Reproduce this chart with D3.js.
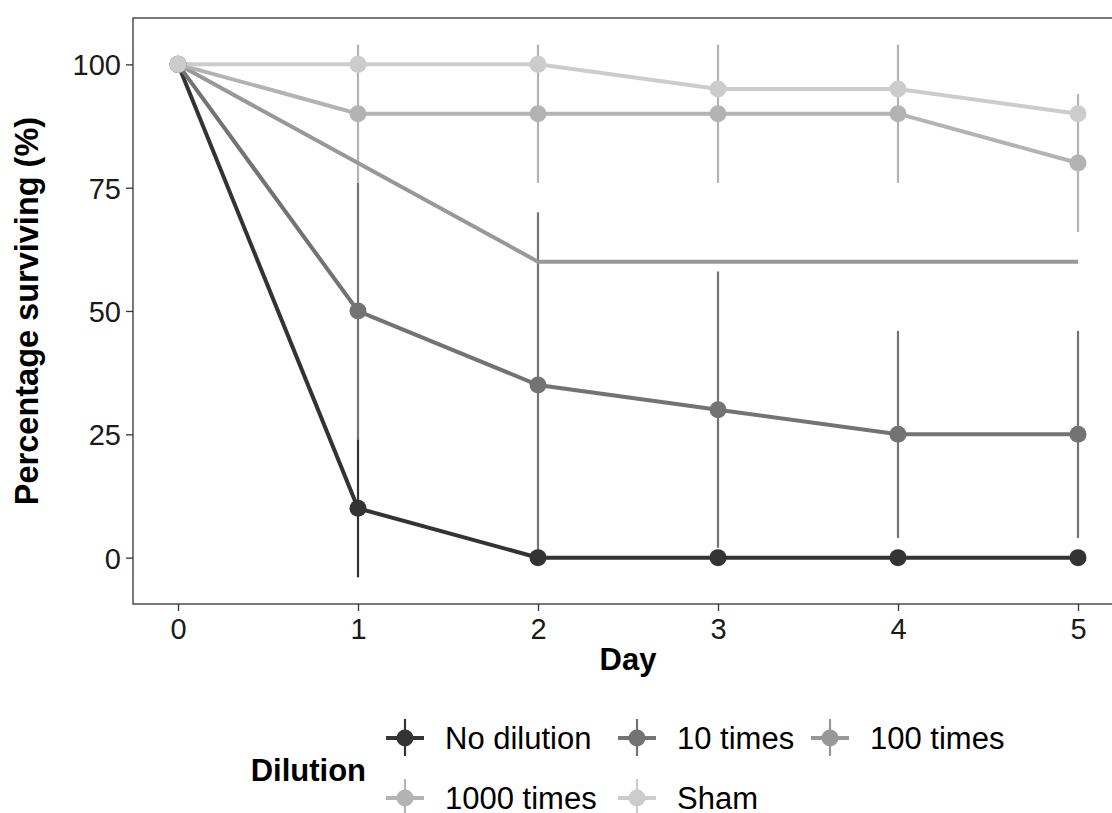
<!DOCTYPE html>
<meta charset="utf-8">
<head>
<title>Survival by dilution</title>
<script src="https://cdn.jsdelivr.net/npm/d3@7"></script>
<style>
body { margin: 0; background-color: #FFF; }
text { font-family: 'Liberation Sans', Arial, sans-serif; fill: #000; }
.tick text { font-size: 29px; fill: #1a1a1a; }
.axis-title { font-size: 31px; font-weight: bold; }
.y-title { font-size: 32.5px; }
.legend-text { font-size: 31px; }
</style>
</head>
<body>
<svg id="chart" width="1112" height="813"></svg>
<script>
// data
var days = [0, 1, 2, 3, 4, 5];
var dilutions = ["No dilution", "10 times", "100 times", "1000 times", "Sham"];
var greys = ["#333333", "#737373", "#989898", "#B3B3B3", "#CCCCCC"];

var meanNoDil  = [100, 10, 0, 0, 0, 0];
var mean10     = [100, 50, 35, 30, 25, 25];
var mean100    = [100, 80, 60, 60, 60, 60];
var mean1000   = [100, 90, 90, 90, 90, 80];
var meanSham   = [100, 100, 100, 95, 95, 90];

var errNoDil = [0, 14, 0, 0, 0, 0];
var err10    = [0, 26, 35, 28, 21, 21];
var err100   = [0, 0, 0, 0, 0, 0];
var err1000  = [0, 14, 14, 14, 14, 14];
var errSham  = [0, 0, 0, 0, 0, 0];

// the 100 times series shows no point markers in the figure
var showPoints = [true, true, false, true, true];

var xTicks = [0, 1, 2, 3, 4, 5];
var yTicks = [0, 25, 50, 75, 100];

var means = [meanNoDil, mean10, mean100, mean1000, meanSham];
var errs = [errNoDil, err10, err100, err1000, errSham];

var series = dilutions.map(function(name, i){
    return {name: name, color: greys[i], points: showPoints[i],
        values: days.map(function(d, j){ return {day: d, mean: means[i][j], err: errs[i][j]}; })};
});

var panelL = 133, panelT = 18, panelB = 604, pxPerDay = 180;
var x = d3.scaleLinear().domain([-0.25, 5.25]).range([panelL, panelL + 5.5 * pxPerDay]);
var y = d3.scaleLinear().domain([-9.4, 109.4]).range([panelB, panelT]);

var svg = d3.select("#chart");

// error bars
var eb = svg.append("g").attr("class", "errorbars");
series.forEach(function(s){
    eb.selectAll(null)
        .data(s.values.filter(function(d){ return d.err > 0; }))
        .enter().append("line")
        .attr("x1", function(d){ return x(d.day); })
        .attr("x2", function(d){ return x(d.day); })
        .attr("y1", function(d){ return y(d.mean - d.err); })
        .attr("y2", function(d){ return y(d.mean + d.err); })
        .attr("stroke", s.color)
        .attr("stroke-width", 2.2);
});

// lines
var line = d3.line().x(function(d){ return x(d.day); }).y(function(d){ return y(d.mean); });
svg.append("g").selectAll("path")
    .data(series)
    .enter().append("path")
    .attr("d", function(s){ return line(s.values); })
    .attr("fill", "none")
    .attr("stroke", function(s){ return s.color; })
    .attr("stroke-width", 4);

// points
series.forEach(function(s){
    if (!s.points) return;
    svg.append("g").selectAll("circle")
        .data(s.values)
        .enter().append("circle")
        .attr("cx", function(d){ return x(d.day); })
        .attr("cy", function(d){ return y(d.mean); })
        .attr("r", 8.5)
        .attr("fill", s.color);
});

// panel border
svg.append("rect")
    .attr("x", panelL).attr("y", panelT)
    .attr("width", x.range()[1] - panelL).attr("height", panelB - panelT)
    .attr("fill", "none").attr("stroke", "#333").attr("stroke-width", 1.3);

// axes
var xAxis = svg.append("g")
    .attr("transform", "translate(0," + panelB + ")")
    .call(d3.axisBottom(x).tickValues(xTicks).tickSize(7).tickPadding(5).tickFormat(d3.format("d")));
var yAxis = svg.append("g")
    .attr("transform", "translate(" + panelL + ",0)")
    .call(d3.axisLeft(y).tickValues(yTicks).tickSize(7).tickPadding(5).tickFormat(d3.format("d")));
[xAxis, yAxis].forEach(function(a){
    a.select(".domain").remove();
    a.selectAll(".tick line").attr("stroke", "#333").attr("stroke-width", 1.3);
});
xAxis.selectAll(".tick text").attr("dy", "0.78em");
yAxis.selectAll(".tick text").attr("dy", "0.36em");

svg.append("text").attr("class", "axis-title")
    .attr("x", x(2.5)).attr("y", 670)
    .attr("text-anchor", "middle").text("Day");
svg.append("text").attr("class", "axis-title y-title")
    .attr("transform", "translate(38," + ((panelT + panelB) / 2) + ") rotate(-90)")
    .attr("text-anchor", "middle").text("Percentage surviving (%)");

// legend
var legend = svg.append("g");
legend.append("text").attr("class", "axis-title")
    .attr("x", 366).attr("y", 781).attr("text-anchor", "end").text("Dilution");
var keyX = [405, 637, 830, 405, 637];
var keyY = [738, 738, 738, 798, 798];
series.forEach(function(s, i){
    var g = legend.append("g").attr("transform", "translate(" + keyX[i] + "," + keyY[i] + ")");
    g.append("line").attr("x1", 0).attr("x2", 0).attr("y1", -19).attr("y2", 18)
        .attr("stroke", s.color).attr("stroke-width", 2.2);
    g.append("line").attr("x1", -19).attr("x2", 19).attr("y1", 0).attr("y2", 0)
        .attr("stroke", s.color).attr("stroke-width", 4);
    g.append("circle").attr("r", 8.5).attr("fill", s.color);
    g.append("text").attr("class", "legend-text")
        .attr("x", 40).attr("y", 0).attr("dy", "0.36em").text(s.name);
});
</script>
</body>
